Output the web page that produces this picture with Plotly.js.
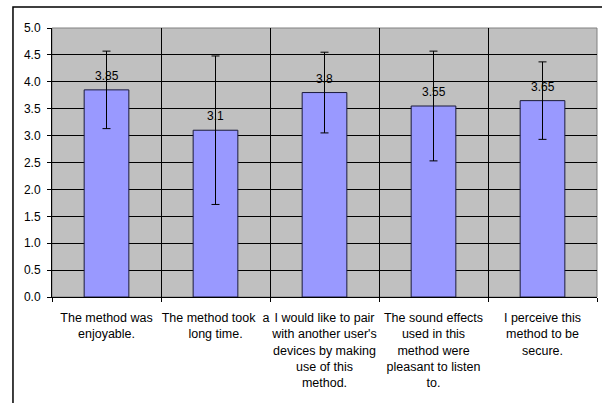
<!DOCTYPE html>
<html>
<head>
<meta charset="utf-8">
<script src="https://cdn.plot.ly/plotly-3.0.1.min.js"></script>
<style>html,body{margin:0;padding:0;background:#fff;}#chart{width:602px;height:403px;}</style>
</head>
<body>
<div id="chart"></div>
<script>
var categories = [
  "The method was<br>enjoyable.",
  "The method took  a<br>long time.",
  "I would like to pair<br>with another user's<br>devices by making<br>use of this<br>method.",
  "The sound effects<br>used in this<br>method were<br>pleasant to listen<br>to.",
  "I perceive this<br>method to be<br>secure."
];
var means = [3.85, 3.1, 3.8, 3.55, 3.65];
var valueLabels = ["3.85", "3.1", "3.8", "3.55", "3.65"];
var errors = [0.72, 1.38, 0.75, 1.02, 0.72];
var yTicks = [0, 0.5, 1, 1.5, 2, 2.5, 3, 3.5, 4, 4.5, 5];

var font = "Liberation Sans, Arial, sans-serif";

var trace = {
  type: "bar",
  x: categories,
  y: means,
  marker: {color: "#9999FF", line: {color: "#1a1a3a", width: 1}},
  error_y: {type: "data", array: errors, visible: true, color: "#000", thickness: 1, width: 4},
  hoverinfo: "none"
};

var annotations = categories.map(function (c, i) {
  return {
    x: c, y: means[i], xref: "x", yref: "y",
    text: valueLabels[i], showarrow: false,
    yanchor: "bottom", yshift: 5,
    font: {family: font, size: 12, color: "#000"}
  };
});

var layout = {
  width: 602, height: 403,
  margin: {l: 52, r: 5, t: 28, b: 106},
  paper_bgcolor: "#fff",
  plot_bgcolor: "#C0C0C0",
  bargap: 0.59,
  showlegend: false,
  font: {family: font, size: 12, color: "#000"},
  xaxis: {
    type: "category",
    tickson: "boundaries",
    showgrid: true, gridcolor: "#000", gridwidth: 1,
    ticks: "outside", ticklen: 4, tickcolor: "#000",
    showline: true, linecolor: "#000", linewidth: 1,
    ticklabelstandoff: 9,
    tickfont: {family: font, size: 12.5, color: "#000"},
    tickangle: 0,
    fixedrange: true
  },
  yaxis: {
    range: [0, 5],
    tickvals: yTicks,
    tickformat: ".1f",
    showgrid: true, gridcolor: "#000", gridwidth: 1,
    zeroline: false,
    ticks: "outside", ticklen: 4, tickcolor: "#000",
    showline: true, linecolor: "#000", linewidth: 1,
    ticklabelstandoff: 4,
    tickfont: {family: font, size: 12, color: "#000"},
    fixedrange: true
  },
  annotations: annotations,
  shapes: [
    {type: "rect", xref: "paper", yref: "paper", x0: 0, x1: 1, y0: 0, y1: 1,
     line: {color: "#808080", width: 1}, layer: "below"},
    {type: "rect", xref: "paper", yref: "paper", x0: -0.0716, x1: 1.02, y0: -0.41, y1: 1.078,
     line: {color: "#000", width: 1.5}, fillcolor: "rgba(0,0,0,0)", layer: "above"}
  ]
};

Plotly.newPlot("chart", [trace], layout, {displayModeBar: false, staticPlot: true});
</script>
</body>
</html>
